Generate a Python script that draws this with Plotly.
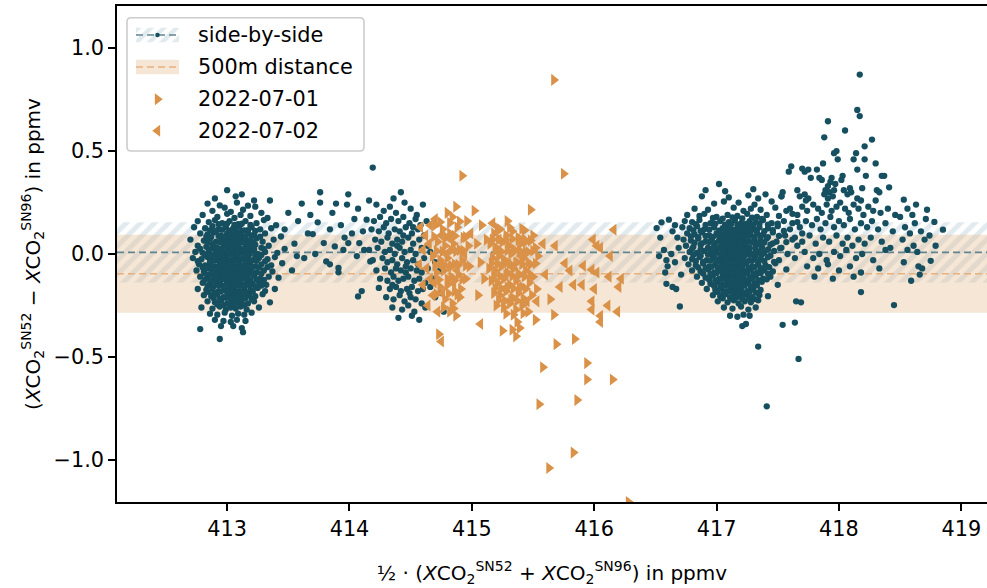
import plotly.graph_objects as go

# ---------------------------------------------------------------------------
# Data: mean XCO2 of both instruments (x) vs. their difference (y), in ppmv
# ---------------------------------------------------------------------------

# Side-by-side measurements (SN52 and SN96 next to each other)
side_cluster_413 = [
    (413.00, 0.31), (413.12, 0.29), (412.90, 0.27), (413.07, 0.28), (413.22, 0.26), (412.84, 0.245),
    (412.94, 0.236), (413.08, 0.25), (413.17, 0.235), (413.23, 0.23), (413.35, 0.26),
    (412.88, 0.21), (412.98, 0.225), (413.03, 0.205), (413.13, 0.215), (413.28, 0.20), (412.80, 0.19),
    (412.92, 0.18), (413.00, 0.195), (413.06, 0.175), (413.11, 0.19), (413.19, 0.185), (413.33, 0.175),
    (412.76, 0.16), (412.85, 0.155), (412.90, 0.165), (412.96, 0.15), (413.02, 0.16), (413.09, 0.145),
    (413.15, 0.16), (413.24, 0.15), (413.30, 0.165), (413.40, 0.14),
    (412.73, 0.13), (412.82, 0.125), (412.88, 0.135), (412.93, 0.12), (412.99, 0.13), (413.05, 0.125),
    (413.10, 0.135), (413.14, 0.115), (413.20, 0.13), (413.27, 0.12), (413.36, 0.125),
    (412.78, 0.10), (412.84, 0.095), (412.89, 0.105), (412.95, 0.09), (413.00, 0.10), (413.04, 0.095),
    (413.08, 0.105), (413.12, 0.09), (413.17, 0.10), (413.22, 0.095), (413.31, 0.10), (413.44, 0.085),
    (412.70, 0.07), (412.81, 0.065), (412.86, 0.075), (412.91, 0.06), (412.96, 0.07), (413.01, 0.065),
    (413.05, 0.075), (413.09, 0.06), (413.13, 0.07), (413.18, 0.065), (413.24, 0.075), (413.29, 0.06),
    (413.38, 0.07),
    (412.76, 0.04), (412.83, 0.035), (412.88, 0.045), (412.92, 0.03), (412.97, 0.04), (413.02, 0.035),
    (413.06, 0.045), (413.10, 0.03), (413.15, 0.04), (413.19, 0.035), (413.23, 0.045), (413.28, 0.03),
    (413.34, 0.04), (413.47, 0.025),
    (412.74, 0.01), (412.80, 0.005), (412.85, 0.015), (412.90, 0.0), (412.94, 0.01), (412.98, 0.005),
    (413.03, 0.015), (413.07, 0.0), (413.11, 0.01), (413.16, 0.005), (413.20, 0.015), (413.25, 0.0),
    (413.31, 0.01), (413.41, 0.005),
    (412.72, -0.02), (412.79, -0.025), (412.84, -0.015), (412.88, -0.03), (412.92, -0.02), (412.96, -0.025),
    (413.00, -0.015), (413.04, -0.03), (413.08, -0.02), (413.12, -0.025), (413.17, -0.015), (413.21, -0.03),
    (413.26, -0.02), (413.33, -0.025), (413.39, -0.015),
    (412.77, -0.05), (412.82, -0.055), (412.86, -0.045), (412.90, -0.06), (412.94, -0.05), (412.98, -0.055),
    (413.02, -0.045), (413.06, -0.06), (413.10, -0.05), (413.14, -0.055), (413.18, -0.045), (413.23, -0.06),
    (413.28, -0.05), (413.36, -0.055), (413.45, -0.045),
    (412.75, -0.08), (412.81, -0.085), (412.87, -0.075), (412.91, -0.09), (412.95, -0.08), (412.99, -0.085),
    (413.03, -0.075), (413.07, -0.09), (413.11, -0.08), (413.15, -0.085), (413.19, -0.075), (413.24, -0.09),
    (413.30, -0.08), (413.37, -0.085),
    (412.78, -0.11), (412.84, -0.115), (412.89, -0.105), (412.93, -0.12), (412.97, -0.11), (413.01, -0.115),
    (413.05, -0.105), (413.09, -0.12), (413.13, -0.11), (413.17, -0.115), (413.22, -0.105), (413.27, -0.12),
    (413.34, -0.11), (413.42, -0.115),
    (412.80, -0.14), (412.86, -0.145), (412.91, -0.135), (412.95, -0.15), (413.00, -0.14), (413.04, -0.145),
    (413.08, -0.135), (413.12, -0.15), (413.16, -0.14), (413.21, -0.145), (413.26, -0.135), (413.32, -0.15),
    (412.76, -0.17), (412.83, -0.175), (412.88, -0.165), (412.93, -0.18), (412.98, -0.17), (413.02, -0.175),
    (413.06, -0.165), (413.10, -0.18), (413.14, -0.17), (413.19, -0.175), (413.25, -0.165), (413.31, -0.18),
    (413.39, -0.17),
    (412.81, -0.20), (412.87, -0.205), (412.92, -0.195), (412.97, -0.21), (413.01, -0.20), (413.05, -0.205),
    (413.09, -0.195), (413.13, -0.21), (413.18, -0.20), (413.23, -0.205), (413.29, -0.195),
    (412.84, -0.23), (412.90, -0.235), (412.95, -0.225), (413.00, -0.24), (413.04, -0.23), (413.08, -0.235),
    (413.12, -0.225), (413.17, -0.24), (413.22, -0.23), (413.35, -0.235),
    (412.79, -0.26), (412.88, -0.265), (412.94, -0.255), (412.99, -0.27), (413.03, -0.26), (413.07, -0.265),
    (413.11, -0.255), (413.16, -0.27), (413.26, -0.26),
    (412.86, -0.29), (412.92, -0.295), (412.98, -0.285), (413.04, -0.30), (413.09, -0.29), (413.14, -0.295),
    (413.20, -0.285),
    (412.90, -0.32), (412.97, -0.325), (413.03, -0.33), (413.08, -0.32), (413.15, -0.325),
    (412.95, -0.35), (413.05, -0.35), (413.12, -0.36), (412.78, -0.365), (413.13, -0.38), (412.94, -0.413),
]

# densest part of the 413 ppmv group
side_core_413 = [
    (412.93, 0.145), (413.00, 0.148), (413.06, 0.142), (413.12, 0.147), (413.19, 0.141),
    (412.86, 0.115), (412.91, 0.112), (412.96, 0.118), (413.02, 0.113), (413.07, 0.117), (413.12, 0.111),
    (413.17, 0.116), (413.23, 0.112),
    (412.83, 0.085), (412.87, 0.082), (412.93, 0.088), (412.98, 0.083), (413.02, 0.087), (413.06, 0.081),
    (413.10, 0.086), (413.15, 0.082), (413.20, 0.088), (413.27, 0.084),
    (412.84, 0.055), (412.89, 0.052), (412.94, 0.058), (412.99, 0.053), (413.03, 0.057), (413.07, 0.051),
    (413.11, 0.056), (413.16, 0.052), (413.21, 0.058),
    (412.78, 0.025), (412.86, 0.022), (412.90, 0.028), (412.95, 0.023), (413.00, 0.027), (413.04, 0.021),
    (413.08, 0.026), (413.13, 0.022), (413.17, 0.028), (413.22, 0.023), (413.30, 0.025),
    (412.82, -0.005), (412.87, -0.008), (412.92, -0.002), (412.96, -0.007), (413.01, -0.003), (413.05, -0.009),
    (413.09, -0.004), (413.14, -0.008), (413.18, -0.002), (413.23, -0.007), (413.28, -0.005),
    (412.76, -0.035), (412.86, -0.038), (412.90, -0.032), (412.94, -0.037), (412.98, -0.033), (413.02, -0.039),
    (413.06, -0.034), (413.10, -0.038), (413.15, -0.032), (413.19, -0.037), (413.24, -0.033), (413.31, -0.036),
    (412.80, -0.065), (412.84, -0.068), (412.88, -0.062), (412.92, -0.067), (412.96, -0.063), (413.00, -0.069),
    (413.04, -0.064), (413.08, -0.068), (413.12, -0.062), (413.16, -0.067), (413.21, -0.063), (413.26, -0.066),
    (413.33, -0.064),
    (412.82, -0.095), (412.86, -0.098), (412.89, -0.092), (412.93, -0.097), (412.97, -0.093), (413.01, -0.099),
    (413.05, -0.094), (413.09, -0.098), (413.13, -0.092), (413.17, -0.097), (413.21, -0.093), (413.28, -0.096),
    (412.82, -0.125), (412.87, -0.128), (412.91, -0.122), (412.95, -0.127), (412.99, -0.123), (413.03, -0.129),
    (413.07, -0.124), (413.11, -0.128), (413.15, -0.122), (413.19, -0.127), (413.24, -0.123), (413.30, -0.126),
    (412.84, -0.155), (412.89, -0.158), (412.93, -0.152), (412.97, -0.157), (413.02, -0.153), (413.06, -0.159),
    (413.10, -0.154), (413.14, -0.158), (413.18, -0.152), (413.23, -0.157), (413.28, -0.153),
    (412.85, -0.185), (412.90, -0.188), (412.95, -0.182), (413.00, -0.187), (413.04, -0.183), (413.08, -0.189),
    (413.12, -0.184), (413.16, -0.188), (413.21, -0.182),
    (412.89, -0.215), (412.94, -0.218), (412.99, -0.212), (413.03, -0.217), (413.07, -0.213), (413.11, -0.219),
    (413.15, -0.214), (413.20, -0.218),
    (412.92, -0.245), (412.97, -0.248), (413.01, -0.242), (413.05, -0.247), (413.10, -0.243), (413.14, -0.249),
]

side_bridge_414 = [
    (413.50, 0.20), (413.55, 0.05), (413.58, 0.16), (413.61, 0.245), (413.63, -0.02), (413.66, 0.10),
    (413.70, 0.097), (413.72, 0.0), (413.74, 0.154), (413.76, 0.30), (413.76, 0.25), (413.79, 0.053),
    (413.81, -0.036), (413.84, 0.12), (413.86, 0.20), (413.88, 0.037), (413.89, 0.245), (413.91, -0.068),
    (413.91, -0.089), (413.93, 0.14), (413.96, 0.08), (413.98, 0.24), (413.99, 0.053), (413.99, 0.29),
    (414.02, 0.10), (414.04, 0.17), (414.06, -0.01), (414.07, 0.22), (414.08, 0.053), (414.07, -0.206),
    (414.10, -0.18), (414.12, 0.02), (414.14, 0.167), (414.17, -0.036), (414.19, 0.42), (414.16, 0.26),
    (413.53, -0.08), (413.47, 0.12), (413.68, 0.19), (413.84, -0.05), (414.11, 0.11), (413.57, -0.01),
    (413.95, 0.02),
]

side_cluster_414 = [
    (414.22, 0.24), (414.28, 0.21), (414.33, 0.23), (414.38, 0.20), (414.45, 0.25), (414.50, 0.22),
    (414.55, 0.19), (414.60, 0.24), (414.42, 0.30), (414.36, 0.27),
    (414.20, 0.16), (414.25, 0.18), (414.30, 0.15), (414.34, 0.17), (414.40, 0.16), (414.44, 0.18),
    (414.49, 0.15), (414.54, 0.17), (414.58, 0.14), (414.63, 0.16),
    (414.18, 0.12), (414.24, 0.11), (414.28, 0.13), (414.32, 0.10), (414.37, 0.12), (414.41, 0.11),
    (414.46, 0.13), (414.51, 0.10), (414.56, 0.12), (414.61, 0.09),
    (414.21, 0.07), (414.26, 0.06), (414.31, 0.08), (414.35, 0.05), (414.39, 0.07), (414.43, 0.06),
    (414.48, 0.08), (414.52, 0.05), (414.57, 0.07), (414.64, 0.04),
    (414.16, 0.02), (414.23, 0.03), (414.29, 0.01), (414.33, 0.02), (414.37, 0.0), (414.41, 0.03),
    (414.45, 0.01), (414.50, 0.02), (414.54, 0.0), (414.59, 0.03), (414.66, 0.01),
    (414.19, -0.03), (414.27, -0.02), (414.31, -0.04), (414.35, -0.03), (414.39, -0.05), (414.43, -0.02),
    (414.47, -0.04), (414.52, -0.03), (414.56, -0.05), (414.61, -0.02), (414.70, -0.04),
    (414.22, -0.08), (414.29, -0.07), (414.34, -0.09), (414.38, -0.07), (414.42, -0.08), (414.46, -0.09),
    (414.50, -0.07), (414.55, -0.08), (414.59, -0.09), (414.64, -0.07), (414.74, -0.08),
    (414.25, -0.12), (414.31, -0.13), (414.36, -0.11), (414.40, -0.13), (414.44, -0.12), (414.48, -0.11),
    (414.53, -0.13), (414.57, -0.12), (414.62, -0.14), (414.68, -0.12),
    (414.24, -0.165), (414.33, -0.17), (414.38, -0.16), (414.42, -0.18), (414.47, -0.17), (414.51, -0.16),
    (414.56, -0.18), (414.60, -0.17), (414.66, -0.16), (414.75, -0.19),
    (414.30, -0.21), (414.36, -0.22), (414.41, -0.20), (414.45, -0.23), (414.50, -0.21), (414.54, -0.22),
    (414.59, -0.24), (414.70, -0.21),
    (414.35, -0.26), (414.43, -0.27), (414.48, -0.25), (414.53, -0.28), (414.62, -0.26), (414.40, -0.31),
    (414.51, -0.30), (414.57, -0.32), (414.77, -0.28),
    (414.39, 0.04), (414.46, -0.06), (414.52, 0.13), (414.44, 0.09), (414.35, -0.15), (414.49, -0.19),
]

side_cluster_417 = [
    (416.51, 0.126), (416.55, 0.154), (416.61, 0.167), (416.64, 0.11), (416.54, 0.08), (416.57, 0.02),
    (416.59, -0.03), (416.60, -0.06), (416.63, 0.0), (416.66, -0.04), (416.69, 0.03), (416.59, -0.145),
    (416.64, -0.16), (416.67, -0.17), (416.70, -0.255), (416.68, 0.08), (416.58, -0.09), (416.53, -0.01),
    (416.71, -0.10), (416.66, 0.14),
    (417.02, 0.34), (416.91, 0.31), (417.07, 0.305), (417.30, 0.315),
    (416.88, 0.28), (417.10, 0.275), (417.26, 0.285), (417.34, 0.27), (417.40, 0.29), (417.53, 0.28),
    (416.98, 0.245), (417.06, 0.255), (417.18, 0.25), (417.31, 0.24), (417.45, 0.255),
    (416.82, 0.22), (416.93, 0.215), (417.14, 0.225), (417.22, 0.21), (417.28, 0.22), (417.36, 0.215),
    (417.48, 0.225), (417.57, 0.21),
    (416.76, 0.19), (416.86, 0.185), (416.90, 0.195), (417.00, 0.18), (417.09, 0.19), (417.17, 0.185),
    (417.25, 0.195), (417.33, 0.18), (417.41, 0.19), (417.51, 0.185), (417.62, 0.195),
    (416.74, 0.16), (416.80, 0.155), (416.86, 0.165), (416.95, 0.15), (417.03, 0.16), (417.10, 0.155),
    (417.15, 0.165), (417.20, 0.15), (417.27, 0.16), (417.32, 0.155), (417.38, 0.165), (417.45, 0.15),
    (417.55, 0.16), (417.66, 0.155),
    (416.72, 0.13), (416.78, 0.125), (416.84, 0.135), (416.90, 0.12), (416.98, 0.13), (417.05, 0.125),
    (417.09, 0.135), (417.13, 0.12), (417.18, 0.13), (417.22, 0.125), (417.26, 0.135), (417.30, 0.12),
    (417.35, 0.13), (417.42, 0.125), (417.50, 0.135), (417.60, 0.12),
    (416.76, 0.10), (416.82, 0.095), (416.88, 0.105), (416.94, 0.09), (417.00, 0.10), (417.04, 0.095),
    (417.08, 0.105), (417.12, 0.09), (417.16, 0.10), (417.20, 0.095), (417.24, 0.105), (417.28, 0.09),
    (417.33, 0.10), (417.38, 0.095), (417.46, 0.105), (417.56, 0.09), (417.70, 0.10),
    (416.73, 0.07), (416.79, 0.065), (416.85, 0.075), (416.91, 0.06), (416.96, 0.07), (417.02, 0.065),
    (417.06, 0.075), (417.10, 0.06), (417.14, 0.07), (417.18, 0.065), (417.22, 0.075), (417.26, 0.06),
    (417.31, 0.07), (417.36, 0.065), (417.41, 0.075), (417.49, 0.06), (417.62, 0.07),
    (416.75, 0.04), (416.81, 0.035), (416.87, 0.045), (416.93, 0.03), (416.98, 0.04), (417.03, 0.035),
    (417.07, 0.045), (417.11, 0.03), (417.15, 0.04), (417.19, 0.035), (417.23, 0.045), (417.27, 0.03),
    (417.32, 0.04), (417.37, 0.035), (417.44, 0.045), (417.53, 0.03), (417.66, 0.04),
    (416.78, 0.01), (416.84, 0.005), (416.90, 0.015), (416.95, 0.0), (417.00, 0.01), (417.05, 0.005),
    (417.09, 0.015), (417.13, 0.0), (417.17, 0.01), (417.21, 0.005), (417.25, 0.015), (417.29, 0.0),
    (417.34, 0.01), (417.39, 0.005), (417.47, 0.015), (417.58, 0.0),
    (416.74, -0.02), (416.80, -0.025), (416.86, -0.015), (416.92, -0.03), (416.97, -0.02), (417.02, -0.025),
    (417.06, -0.015), (417.10, -0.03), (417.14, -0.02), (417.18, -0.025), (417.22, -0.015), (417.27, -0.03),
    (417.31, -0.02), (417.36, -0.025), (417.42, -0.015), (417.51, -0.03), (417.64, -0.02),
    (416.77, -0.05), (416.83, -0.055), (416.89, -0.045), (416.94, -0.06), (416.99, -0.05), (417.04, -0.055),
    (417.08, -0.045), (417.12, -0.06), (417.16, -0.05), (417.20, -0.055), (417.24, -0.045), (417.29, -0.06),
    (417.34, -0.05), (417.40, -0.055), (417.48, -0.045),
    (416.80, -0.08), (416.87, -0.085), (416.93, -0.075), (416.98, -0.09), (417.03, -0.08), (417.07, -0.085),
    (417.11, -0.075), (417.15, -0.09), (417.19, -0.08), (417.23, -0.085), (417.28, -0.075), (417.33, -0.09),
    (417.39, -0.08), (417.46, -0.085), (417.57, -0.075),
    (416.84, -0.11), (416.91, -0.115), (416.97, -0.105), (417.02, -0.12), (417.06, -0.11), (417.10, -0.115),
    (417.14, -0.105), (417.18, -0.12), (417.22, -0.11), (417.27, -0.115), (417.32, -0.105), (417.38, -0.12),
    (417.44, -0.11),
    (416.88, -0.14), (416.95, -0.145), (417.01, -0.135), (417.05, -0.15), (417.09, -0.14), (417.13, -0.145),
    (417.17, -0.135), (417.21, -0.15), (417.26, -0.14), (417.31, -0.145), (417.37, -0.135), (417.50, -0.15),
    (416.92, -0.17), (416.99, -0.175), (417.04, -0.165), (417.08, -0.18), (417.12, -0.17), (417.16, -0.175),
    (417.20, -0.165), (417.25, -0.18), (417.30, -0.17), (417.36, -0.175),
    (416.97, -0.20), (417.03, -0.205), (417.07, -0.195), (417.11, -0.21), (417.15, -0.20), (417.19, -0.205),
    (417.24, -0.195), (417.29, -0.21), (417.35, -0.20), (417.42, -0.205),
    (417.01, -0.23), (417.09, -0.235), (417.14, -0.225), (417.18, -0.24), (417.23, -0.23), (417.28, -0.235),
    (417.34, -0.225), (417.65, -0.23), (417.69, -0.235),
    (417.06, -0.26), (417.13, -0.265), (417.20, -0.255), (417.26, -0.27), (417.32, -0.26),
    (417.11, -0.30), (417.17, -0.305), (417.22, -0.295), (417.27, -0.30),
    (417.21, -0.35), (417.24, -0.34), (417.54, -0.344), (417.64, -0.333),
    (417.34, -0.45), (417.67, -0.51), (417.41, -0.74),
]

# densest part of the 417 ppmv group
side_core_417 = [
    (416.97, 0.175), (417.05, 0.172), (417.13, 0.178), (417.21, 0.173), (417.29, 0.177), (417.37, 0.171),
    (416.83, 0.145), (416.91, 0.142), (416.99, 0.148), (417.07, 0.143), (417.12, 0.147), (417.17, 0.141),
    (417.24, 0.146), (417.30, 0.142), (417.35, 0.148), (417.42, 0.143), (417.50, 0.147),
    (416.81, 0.115), (416.87, 0.112), (416.94, 0.118), (417.02, 0.113), (417.07, 0.117), (417.11, 0.111),
    (417.15, 0.116), (417.20, 0.112), (417.24, 0.118), (417.28, 0.113), (417.33, 0.117), (417.39, 0.111),
    (417.46, 0.116), (417.55, 0.112),
    (416.79, 0.085), (416.85, 0.082), (416.91, 0.088), (416.97, 0.083), (417.02, 0.087), (417.06, 0.081),
    (417.10, 0.086), (417.14, 0.082), (417.18, 0.088), (417.22, 0.083), (417.26, 0.087), (417.31, 0.081),
    (417.36, 0.086), (417.42, 0.082), (417.51, 0.088),
    (416.82, 0.055), (416.88, 0.052), (416.94, 0.058), (416.99, 0.053), (417.04, 0.057), (417.08, 0.051),
    (417.12, 0.056), (417.16, 0.052), (417.20, 0.058), (417.24, 0.053), (417.29, 0.057), (417.34, 0.051),
    (417.39, 0.056), (417.46, 0.052), (417.57, 0.058),
    (416.80, 0.025), (416.87, 0.022), (416.93, 0.028), (416.97, 0.023), (417.02, 0.027), (417.07, 0.021),
    (417.11, 0.026), (417.15, 0.022), (417.19, 0.028), (417.23, 0.023), (417.27, 0.027), (417.32, 0.021),
    (417.37, 0.026), (417.42, 0.022), (417.52, 0.028),
    (416.81, -0.005), (416.87, -0.008), (416.93, -0.002), (416.98, -0.007), (417.03, -0.003), (417.07, -0.009),
    (417.11, -0.004), (417.15, -0.008), (417.19, -0.002), (417.23, -0.007), (417.27, -0.003), (417.32, -0.009),
    (417.37, -0.004), (417.44, -0.008),
    (416.83, -0.035), (416.89, -0.038), (416.95, -0.032), (417.00, -0.037), (417.04, -0.033), (417.08, -0.039),
    (417.12, -0.034), (417.16, -0.038), (417.20, -0.032), (417.25, -0.037), (417.29, -0.033), (417.34, -0.039),
    (417.39, -0.034), (417.47, -0.038),
    (416.85, -0.065), (416.91, -0.068), (416.96, -0.062), (417.01, -0.067), (417.05, -0.063), (417.09, -0.069),
    (417.13, -0.064), (417.17, -0.068), (417.21, -0.062), (417.26, -0.067), (417.31, -0.063), (417.36, -0.069),
    (417.43, -0.064),
    (416.89, -0.095), (416.95, -0.098), (417.00, -0.092), (417.05, -0.097), (417.09, -0.093), (417.13, -0.099),
    (417.17, -0.094), (417.21, -0.098), (417.25, -0.092), (417.30, -0.097), (417.36, -0.093), (417.42, -0.096),
    (416.94, -0.125), (416.99, -0.128), (417.04, -0.122), (417.08, -0.127), (417.12, -0.123), (417.16, -0.129),
    (417.20, -0.124), (417.24, -0.128), (417.29, -0.122), (417.34, -0.127), (417.41, -0.123),
    (416.98, -0.155), (417.03, -0.158), (417.07, -0.152), (417.11, -0.157), (417.15, -0.153), (417.19, -0.159),
    (417.23, -0.154), (417.28, -0.158), (417.33, -0.152),
    (417.01, -0.185), (417.06, -0.188), (417.10, -0.182), (417.14, -0.187), (417.18, -0.183), (417.22, -0.189),
    (417.27, -0.184), (417.32, -0.188),
    (417.05, -0.215), (417.12, -0.218), (417.16, -0.212), (417.21, -0.217), (417.26, -0.213), (417.31, -0.219),
]

side_cluster_418 = [
    (418.17, 0.872), (418.15, 0.70), (418.17, 0.67), (417.91, 0.645), (418.05, 0.60), (417.88, 0.567),
    (418.27, 0.556), (418.21, 0.523), (417.98, 0.50), (417.96, 0.49), (418.14, 0.49), (418.21, 0.46),
    (417.99, 0.46), (418.12, 0.46), (417.87, 0.44), (418.30, 0.44), (417.61, 0.426), (417.59, 0.40),
    (417.70, 0.415), (417.72, 0.40), (417.75, 0.41), (417.82, 0.41), (418.03, 0.38), (418.02, 0.36),
    (418.15, 0.41), (418.35, 0.38), (418.37, 0.38), (418.22, 0.38), (417.77, 0.37), (417.84, 0.37),
    (417.86, 0.36), (417.94, 0.37), (417.93, 0.35), (417.91, 0.33), (417.89, 0.31), (417.92, 0.30),
    (417.97, 0.34), (417.96, 0.31), (418.09, 0.32), (418.19, 0.32), (418.31, 0.31), (418.33, 0.30),
    (418.41, 0.324), (418.04, 0.31), (418.07, 0.29), (418.10, 0.30), (417.54, 0.30), (417.66, 0.31),
    (417.68, 0.28), (417.72, 0.29), (417.75, 0.27), (417.73, 0.26), (417.53, 0.28), (417.88, 0.29),
    (417.91, 0.27), (417.95, 0.28), (418.15, 0.27), (418.18, 0.26), (418.30, 0.26), (418.53, 0.264),
    (417.60, 0.22), (417.66, 0.19), (417.70, 0.23), (417.74, 0.21), (417.79, 0.24), (417.83, 0.22),
    (417.86, 0.20), (417.90, 0.24), (417.94, 0.21), (417.98, 0.23), (418.01, 0.25), (418.05, 0.22),
    (418.08, 0.20), (418.12, 0.24), (418.16, 0.22), (418.20, 0.19), (418.24, 0.23), (418.28, 0.21),
    (418.34, 0.20), (418.40, 0.22), (418.46, 0.19),
    (417.62, 0.15), (417.68, 0.13), (417.73, 0.16), (417.78, 0.14), (417.82, 0.17), (417.85, 0.12),
    (417.89, 0.15), (417.93, 0.18), (417.96, 0.13), (418.00, 0.16), (418.04, 0.14), (418.09, 0.17),
    (418.13, 0.12), (418.18, 0.15), (418.23, 0.13), (418.27, 0.16), (418.32, 0.12), (418.38, 0.15),
    (418.44, 0.11),
    (417.64, 0.08), (417.70, 0.06), (417.76, 0.09), (417.81, 0.05), (417.87, 0.08), (417.92, 0.06),
    (417.98, 0.09), (418.03, 0.05), (418.07, 0.08), (418.11, 0.04), (418.16, 0.07), (418.21, 0.05),
    (418.26, 0.08), (418.35, 0.06), (418.42, 0.03),
    (417.72, 0.01), (417.79, -0.02), (417.84, 0.0), (417.90, -0.03), (417.96, 0.01), (418.01, -0.01),
    (418.06, 0.02), (418.14, -0.02), (418.19, 0.0), (418.28, -0.03), (418.38, 0.02),
    (417.74, -0.06), (417.83, -0.07), (417.91, -0.05), (418.00, -0.08), (418.09, -0.06), (418.18, -0.09),
    (418.33, -0.07), (417.80, -0.11), (417.95, -0.12), (418.12, -0.11), (418.18, -0.185), (418.45, -0.248),
    (418.56, 0.22), (418.63, 0.24), (418.72, 0.215), (418.78, 0.156), (418.85, 0.118), (418.79, 0.04),
    (418.75, -0.033), (418.65, -0.06), (418.68, -0.07), (418.59, -0.13), (418.66, -0.10), (418.54, 0.13),
    (418.58, 0.10), (418.62, 0.15), (418.67, 0.11), (418.70, 0.07), (418.61, 0.04), (418.56, 0.02),
    (418.52, 0.07), (418.64, 0.01), (418.71, 0.17), (418.50, 0.18), (418.60, 0.19), (418.74, 0.09),
    (418.53, -0.04),
]

# 500 m distance measurements, 2022-07-01
day1_points = [
    (414.80, 0.20), (414.84, 0.18), (414.87, 0.23), (414.92, 0.38), (414.96, 0.16), (414.70, 0.14),
    (414.76, 0.12), (414.82, 0.10), (414.88, 0.13), (414.93, 0.08), (414.72, 0.06), (414.78, 0.04),
    (414.85, 0.05), (414.90, 0.02), (414.97, 0.04), (414.68, -0.01), (414.74, -0.03), (414.80, -0.02),
    (414.86, -0.05), (414.92, -0.03), (414.98, -0.06), (414.71, -0.09), (414.77, -0.08), (414.83, -0.11),
    (414.89, -0.10), (414.95, -0.12), (414.74, -0.16), (414.80, -0.15), (414.86, -0.18), (414.91, -0.17),
    (414.78, -0.22), (414.84, -0.24), (414.90, -0.21), (414.73, -0.39), (414.82, -0.28), (414.87, -0.30),
    (414.74, 0.155), (414.82, 0.152), (414.90, 0.158), (414.69, 0.085), (414.79, 0.082), (414.86, 0.088),
    (414.95, 0.083), (414.71, 0.015), (414.76, 0.012), (414.83, 0.018), (414.87, 0.013), (414.93, 0.017),
    (414.70, -0.055), (414.77, -0.052), (414.83, -0.058), (414.89, -0.053), (414.95, -0.057),
    (414.73, -0.125), (414.80, -0.122), (414.86, -0.128), (414.92, -0.123), (414.71, -0.195),
    (414.81, -0.192), (414.88, -0.198), (414.77, -0.26), (414.85, -0.265),
    (415.02, 0.21), (415.08, 0.14), (415.29, 0.16), (415.48, 0.215), (415.43, 0.115), (415.75, 0.39),
    (415.67, 0.846),
    (415.18, 0.10), (415.23, 0.12), (415.28, 0.09), (415.33, 0.11), (415.38, 0.08), (415.44, 0.06),
    (415.50, 0.09),
    (415.15, 0.05), (415.20, 0.03), (415.25, 0.06), (415.30, 0.04), (415.35, 0.02), (415.40, 0.05),
    (415.46, 0.01), (415.52, 0.03),
    (415.17, -0.02), (415.22, -0.01), (415.27, -0.03), (415.32, 0.0), (415.37, -0.04), (415.42, -0.02),
    (415.48, -0.05), (415.54, -0.01),
    (415.14, -0.07), (415.19, -0.08), (415.24, -0.06), (415.29, -0.09), (415.34, -0.07), (415.39, -0.10),
    (415.44, -0.08), (415.50, -0.11),
    (415.16, -0.13), (415.21, -0.14), (415.26, -0.12), (415.31, -0.15), (415.36, -0.13), (415.41, -0.16),
    (415.47, -0.14), (415.53, -0.17),
    (415.18, -0.19), (415.23, -0.20), (415.28, -0.18), (415.33, -0.21), (415.38, -0.19), (415.43, -0.22),
    (415.49, -0.20),
    (415.20, -0.25), (415.26, -0.26), (415.31, -0.24), (415.36, -0.27), (415.41, -0.25), (415.46, -0.28),
    (415.21, 0.125), (415.31, 0.128), (415.41, 0.122),
    (415.17, 0.07), (415.22, 0.072), (415.28, 0.068), (415.33, 0.073), (415.38, 0.067), (415.43, 0.071),
    (415.48, 0.066),
    (415.19, 0.015), (415.24, 0.012), (415.29, 0.018), (415.34, 0.013), (415.39, 0.017), (415.44, 0.011),
    (415.50, 0.016),
    (415.16, -0.045), (415.21, -0.048), (415.26, -0.042), (415.31, -0.047), (415.36, -0.043), (415.41, -0.049),
    (415.46, -0.044), (415.52, -0.046),
    (415.18, -0.105), (415.23, -0.108), (415.28, -0.102), (415.33, -0.107), (415.38, -0.103), (415.43, -0.109),
    (415.48, -0.104),
    (415.19, -0.165), (415.24, -0.168), (415.29, -0.162), (415.34, -0.167), (415.39, -0.163), (415.44, -0.169),
    (415.22, -0.225), (415.27, -0.228), (415.32, -0.222), (415.37, -0.227), (415.42, -0.223),
    (415.28, -0.29), (415.34, -0.295), (415.42, -0.288),
    (415.37, -0.33), (415.52, -0.32), (415.67, -0.295), (415.64, -0.22), (415.25, -0.373), (415.33, -0.368),
    (415.39, -0.36), (415.36, -0.40),
    (415.04, 0.05), (415.07, -0.04), (415.10, -0.12), (415.05, -0.20), (415.12, 0.07),
    (415.69, -0.438), (415.84, -0.413), (415.58, -0.55), (415.94, -0.53), (415.94, -0.61), (416.15, -0.61),
    (415.55, -0.73), (415.86, -0.71), (415.83, -0.965), (415.63, -1.04), (416.28, -1.205),
]

# 500 m distance measurements, 2022-07-02
day2_points = [
    (414.58, 0.13), (414.62, 0.09), (414.60, 0.02), (414.65, 0.05), (414.57, -0.05), (414.63, -0.07),
    (414.66, -0.12), (414.60, -0.15), (414.68, -0.20), (414.64, -0.25), (414.70, 0.17), (414.75, 0.09),
    (414.79, 0.0), (414.73, -0.05), (414.81, -0.06), (414.69, -0.14), (414.76, -0.19), (414.75, -0.425),
    (414.83, 0.07), (414.88, -0.08), (414.94, 0.0), (414.99, 0.10), (414.66, 0.14), (414.72, -0.28),
    (414.85, -0.14),
    (415.17, 0.15), (415.22, 0.07), (415.30, -0.05), (415.40, -0.01), (415.27, -0.17), (415.45, -0.23),
    (415.07, -0.34), (415.53, -0.23), (415.58, 0.05), (415.60, -0.10),
    (416.16, 0.118), (415.99, 0.07), (416.05, 0.03), (416.02, 0.04), (416.13, -0.01), (415.76, -0.045),
    (415.91, -0.057), (415.98, -0.076), (416.02, -0.09), (416.12, -0.11), (416.22, -0.12), (416.20, -0.16),
    (415.90, -0.15), (416.00, -0.17), (415.83, -0.15), (415.72, -0.16), (415.98, -0.23), (415.98, -0.27),
    (416.11, -0.25), (416.05, -0.30), (416.05, -0.33), (416.19, -0.28), (415.80, -0.08), (415.68, 0.04),
]

# Mean offset and standard deviation of the difference for each setup
side_mean, side_std = 0.008, 0.146
far_mean, far_std = -0.096, 0.19

x_ticks = [413, 414, 415, 416, 417, 418, 419]
y_ticks = [-1.0, -0.5, 0.0, 0.5, 1.0]
x_range = [412.1, 419.21]
y_range = [-1.205, 1.205]

legend_labels = ["side-by-side", "500m distance", "2022-07-01", "2022-07-02"]

# ---------------------------------------------------------------------------
TEAL = "#164f5f"
ORANGE = "#da9148"
HATCH = "#c4d6dd"
BAND_ORANGE = "rgba(228,186,141,0.36)"
PATCH_ORANGE = "rgb(245,230,214)"
TEAL_DASH = "#5f8590"
ORANGE_DASH = "#e7b07c"
FONT = "DejaVu Sans"
FS = 20.8          # tick labels and legend
FS_TITLE = 20      # axis titles

# plot area in pixels (figure is 987 x 588)
PLOT_L, PLOT_T, PLOT_B = 117, 6, 502
PLOT_W, PLOT_H = 987 - PLOT_L, PLOT_B - PLOT_T

side_pts = (side_cluster_413 + side_core_413 + side_bridge_414 + side_cluster_414
            + side_cluster_417 + side_core_417 + side_cluster_418)

fig = go.Figure()


def band(mean, std):
    xs = [x_range[0], x_range[1], x_range[1], x_range[0], x_range[0]]
    ys = [mean + std, mean + std, mean - std, mean - std, mean + std]
    return xs, ys


hatch = dict(shape="/", size=10, solidity=0.5, fgcolor=HATCH, bgcolor="rgba(0,0,0,0)")

# hatched band: side-by-side mean +- std
bx, by = band(side_mean, side_std)
fig.add_trace(go.Scatter(
    x=bx, y=by, mode="lines", fill="toself", line=dict(width=0),
    fillcolor="rgba(0,0,0,0)", fillpattern=hatch, hoverinfo="skip"))

# shaded band: 500 m distance mean +- std
bx, by = band(far_mean, far_std)
fig.add_trace(go.Scatter(
    x=bx, y=by, mode="lines", fill="toself", line=dict(width=0),
    fillcolor=BAND_ORANGE, hoverinfo="skip"))

# dashed mean lines
fig.add_trace(go.Scatter(x=x_range, y=[side_mean, side_mean], mode="lines",
                         line=dict(color=TEAL_DASH, width=1.6, dash="7px,4px"), hoverinfo="skip"))
fig.add_trace(go.Scatter(x=x_range, y=[far_mean, far_mean], mode="lines",
                         line=dict(color=ORANGE_DASH, width=1.6, dash="7px,4px"), hoverinfo="skip"))

# side-by-side measurements
fig.add_trace(go.Scatter(
    x=[p[0] for p in side_pts], y=[p[1] for p in side_pts], mode="markers",
    marker=dict(color=TEAL, size=6.3, line=dict(width=0)), name=legend_labels[0]))

# 500 m distance measurements
fig.add_trace(go.Scatter(
    x=[p[0] for p in day1_points], y=[p[1] for p in day1_points], mode="markers",
    marker=dict(color=ORANGE, size=10.5, symbol="triangle-right", line=dict(width=0)),
    name=legend_labels[2]))
fig.add_trace(go.Scatter(
    x=[p[0] for p in day2_points], y=[p[1] for p in day2_points], mode="markers",
    marker=dict(color=ORANGE, size=10.5, symbol="triangle-left", line=dict(width=0)),
    name=legend_labels[3]))

# ---------------------------------------------------------------------------
# Legend: drawn in a small pixel-unit inset axes so the handles can carry the
# hatched patch, the dashed mean line and the marker together.
# ---------------------------------------------------------------------------
LEG_X0, LEG_Y0, LEG_W, LEG_H = 127, 17.7, 237, 133.3   # box, figure pixels
PAD = 2
HANDLE_X0, HANDLE_X1, HANDLE_MID = 9, 52, 30.5
TEXT_X = 69
ROW_Y = [17.3, 49.3, 81.5, 113.0]
PATCH_HALF = 7.3

leg_x_dom = [(LEG_X0 - PAD - PLOT_L) / PLOT_W, (LEG_X0 + LEG_W + PAD - PLOT_L) / PLOT_W]
leg_y_dom = [(PLOT_B - (LEG_Y0 + LEG_H + PAD)) / PLOT_H, (PLOT_B - (LEG_Y0 - PAD)) / PLOT_H]


def patch(yc):
    return ([HANDLE_X0, HANDLE_X1, HANDLE_X1, HANDLE_X0, HANDLE_X0],
            [yc - PATCH_HALF, yc - PATCH_HALF, yc + PATCH_HALF, yc + PATCH_HALF, yc - PATCH_HALF])


px, py = patch(ROW_Y[0])
fig.add_trace(go.Scatter(x=px, y=py, xaxis="x2", yaxis="y2", mode="lines", fill="toself",
                         line=dict(width=0), fillcolor="rgba(0,0,0,0)",
                         fillpattern=dict(hatch, size=9), hoverinfo="skip"))
fig.add_trace(go.Scatter(x=[HANDLE_X0, HANDLE_X1], y=[ROW_Y[0]] * 2, xaxis="x2", yaxis="y2",
                         mode="lines", line=dict(color=TEAL_DASH, width=1.6, dash="7px,4px"),
                         hoverinfo="skip"))
fig.add_trace(go.Scatter(x=[HANDLE_MID], y=[ROW_Y[0]], xaxis="x2", yaxis="y2", mode="markers",
                         marker=dict(color=TEAL, size=4.5), hoverinfo="skip"))
px, py = patch(ROW_Y[1])
fig.add_trace(go.Scatter(x=px, y=py, xaxis="x2", yaxis="y2", mode="lines", fill="toself",
                         line=dict(width=0), fillcolor=PATCH_ORANGE, hoverinfo="skip"))
fig.add_trace(go.Scatter(x=[HANDLE_X0, HANDLE_X1], y=[ROW_Y[1]] * 2, xaxis="x2", yaxis="y2",
                         mode="lines", line=dict(color=ORANGE_DASH, width=1.6, dash="7px,4px"),
                         hoverinfo="skip"))
fig.add_trace(go.Scatter(x=[HANDLE_MID], y=[ROW_Y[2]], xaxis="x2", yaxis="y2", mode="markers",
                         marker=dict(color=ORANGE, size=10.5, symbol="triangle-right"),
                         hoverinfo="skip"))
fig.add_trace(go.Scatter(x=[HANDLE_MID], y=[ROW_Y[3]], xaxis="x2", yaxis="y2", mode="markers",
                         marker=dict(color=ORANGE, size=10.5, symbol="triangle-left"),
                         hoverinfo="skip"))

legend_box = dict(
    type="path", xref="x2", yref="y2", layer="below",
    path=(f"M 4,0 L {LEG_W - 4},0 Q {LEG_W},0 {LEG_W},4 L {LEG_W},{LEG_H - 4} "
          f"Q {LEG_W},{LEG_H} {LEG_W - 4},{LEG_H} L 4,{LEG_H} Q 0,{LEG_H} 0,{LEG_H - 4} "
          f"L 0,4 Q 0,0 4,0 Z"),
    fillcolor="rgba(255,255,255,0.8)", line=dict(color="#cccccc", width=1.6),
)

legend_text = [
    dict(x=TEXT_X, y=yy, xref="x2", yref="y2", text=lab, showarrow=False,
         xanchor="left", yanchor="middle", font=dict(family=FONT, size=FS, color="black"))
    for lab, yy in zip(legend_labels, ROW_Y)
]

axis_common = dict(
    showline=True, linecolor="black", linewidth=1.6, ticks="outside", ticklen=7,
    tickwidth=1.6, tickcolor="black", showgrid=False, zeroline=False,
    tickfont=dict(family=FONT, size=FS, color="black"),
)

fig.update_layout(
    width=987, height=588,
    margin=dict(l=PLOT_L, r=0, t=PLOT_T, b=588 - PLOT_B),
    plot_bgcolor="white", paper_bgcolor="white",
    font=dict(family=FONT, size=FS, color="black"),
    showlegend=False,
    xaxis=dict(
        range=x_range, tickvals=x_ticks, mirror=True,
        title=dict(text="½ · (<i>X</i>CO<sub>2</sub><sup>SN52</sup> + <i>X</i>CO<sub>2</sub><sup>SN96</sup>) in ppmv",
                   font=dict(family=FONT, size=FS_TITLE), standoff=26),
        **axis_common),
    yaxis=dict(
        range=y_range, tickvals=y_ticks, tickformat=".1f",
        title=dict(text="(<i>X</i>CO<sub>2</sub><sup>SN52</sup> − <i>X</i>CO<sub>2</sub><sup>SN96</sup>) in ppmv",
                   font=dict(family=FONT, size=FS_TITLE), standoff=8),
        **axis_common),
    xaxis2=dict(domain=leg_x_dom, range=[-PAD, LEG_W + PAD], anchor="y2", visible=False,
                fixedrange=True),
    yaxis2=dict(domain=leg_y_dom, range=[LEG_H + PAD, -PAD], anchor="x2", visible=False,
                fixedrange=True),
    shapes=[legend_box],
    annotations=legend_text,
)

fig.write_html("out.html")
